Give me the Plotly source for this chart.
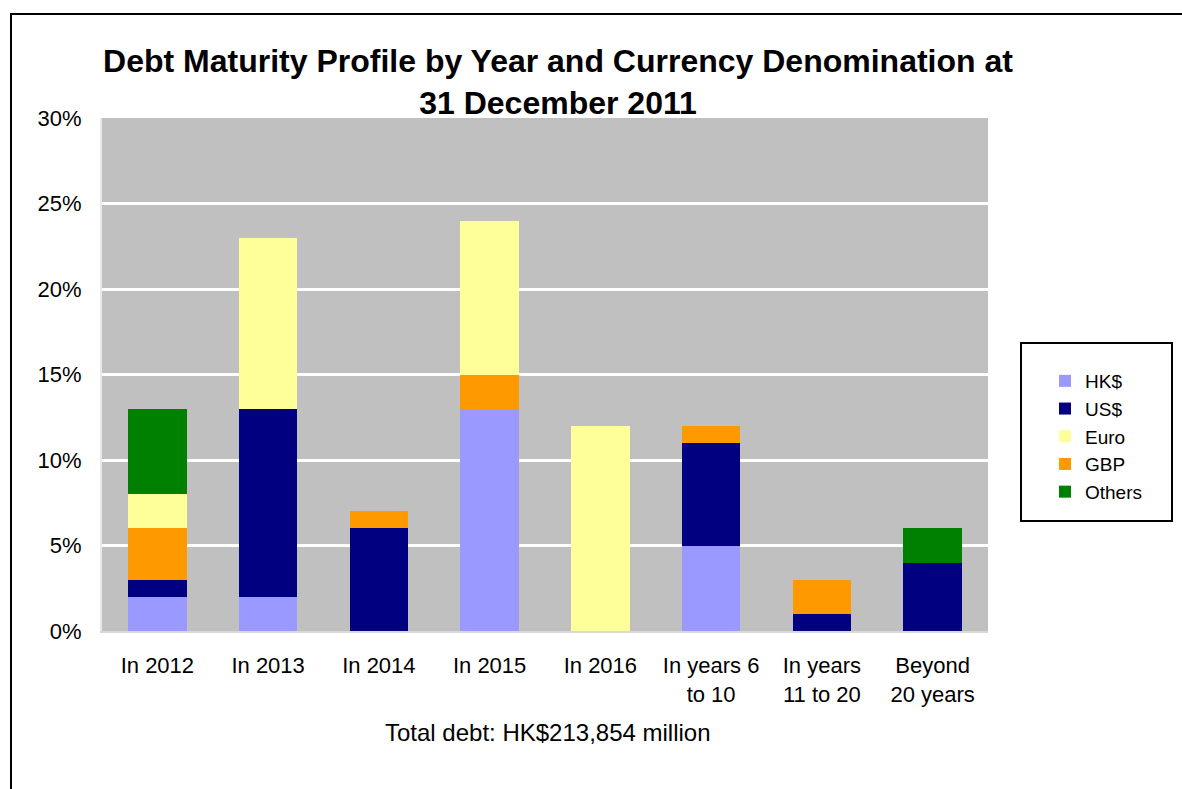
import plotly.graph_objects as go

categories = ["In 2012", "In 2013", "In 2014", "In 2015", "In 2016",
              "In years 6<br>to 10", "In years<br>11 to 20", "Beyond<br>20 years"]
hkd = [2, 2, 0, 13, 0, 5, 0, 0]
usd = [1, 11, 6, 0, 0, 6, 1, 4]
gbp = [3, 0, 1, 2, 0, 1, 2, 0]
euro = [2, 10, 0, 9, 12, 0, 0, 0]
others = [5, 0, 0, 0, 0, 0, 0, 2]
y_ticks = [0, 5, 10, 15, 20, 25, 30]
y_tick_labels = ["0%", "5%", "10%", "15%", "20%", "25%", "30%"]

series = [
    ("HK$", hkd, "#9999FF", 1),
    ("US$", usd, "#000080", 2),
    ("GBP", gbp, "#FF9900", 4),
    ("Euro", euro, "#FFFF99", 3),
    ("Others", others, "#008000", 5),
]

fig = go.Figure()
for name, vals, color, rank in series:
    fig.add_trace(go.Bar(x=categories, y=vals, name=name, marker_color=color,
                         marker_line_width=0, legendrank=rank))

W, H = 1182, 789
L, R, T, B = 102, 194, 118, 158
pw, ph = W - L - R, H - T - B

def px_x(p):
    return (p - L) / pw

def px_y(p):
    return (H - B - p) / ph

fig.update_layout(
    width=W, height=H,
    margin=dict(l=L, r=R, t=T, b=B),
    paper_bgcolor="white",
    plot_bgcolor="#C0C0C0",
    barmode="stack",
    bargap=0.47,
    font=dict(family="Liberation Sans, Arial, sans-serif", color="black"),
    title=dict(
        text="<b>Debt Maturity Profile by Year and Currency Denomination at<br>31 December 2011</b>",
        font=dict(size=32, color="black"),
        x=558 / W, xanchor="center", xref="container",
        y=1 - 72 / H, yanchor="top", yref="container",
    ),
    legend=dict(
        x=px_x(1045), xanchor="left",
        y=px_y(362), yanchor="top",
        font=dict(size=19),
        bgcolor="rgba(0,0,0,0)",
        traceorder="normal",
        itemclick=False,
    ),
    showlegend=True,
    xaxis=dict(
        tickfont=dict(size=22),
        showgrid=False,
        ticks="",
        ticklabelstandoff=14,
        showline=True, linecolor="#D8D8D8", linewidth=2,
    ),
    yaxis=dict(
        range=[0, 30],
        tickvals=y_ticks, ticktext=y_tick_labels,
        tickfont=dict(size=22),
        showgrid=True, gridcolor="white", gridwidth=3,
        zeroline=False,
        ticks="", ticklabelstandoff=14,
        showline=True, linecolor="#E8E8E8", linewidth=2,
    ),
    annotations=[
        dict(text="Total debt: HK$213,854 million", xref="paper", yref="paper",
             x=px_x(548), y=px_y(733), xanchor="center", yanchor="middle",
             showarrow=False, font=dict(size=24, color="black")),
    ],
    shapes=[
        # outer chart frame
        dict(type="rect", xref="paper", yref="paper",
             x0=px_x(11), x1=px_x(1300), y0=px_y(900), y1=px_y(14),
             line=dict(color="black", width=2), fillcolor="rgba(0,0,0,0)", layer="above"),
        # legend box
        dict(type="rect", xref="paper", yref="paper",
             x0=px_x(1021), x1=px_x(1172), y0=px_y(521), y1=px_y(343),
             line=dict(color="black", width=2), fillcolor="rgba(0,0,0,0)", layer="above"),
    ],
)

fig.write_html("out.html", config={"displayModeBar": False},
               post_script="document.body.style.margin='0';")
